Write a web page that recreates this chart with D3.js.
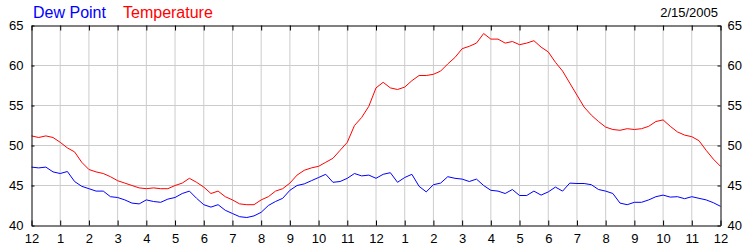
<!DOCTYPE html>
<html>
<head>
<meta charset="utf-8">
<script src="https://cdn.jsdelivr.net/npm/d3@7"></script>
<style>
  body { margin: 0; background: #fff; }
  svg text { font-family: Arial, "Liberation Sans", sans-serif; }
</style>
</head>
<body>
<svg id="chart" width="750" height="250"></svg>
<script>
// readings every 15 minutes, midnight to midnight, 2/15/2005
var dateLabel = "2/15/2005";
var hourLabels = ["12","1","2","3","4","5","6","7","8","9","10","11",
                  "12","1","2","3","4","5","6","7","8","9","10","11","12"];
var yTicks = [40, 45, 50, 55, 60, 65];

var temperature = [
  51.2, 51.0, 51.2, 51.0, 50.4, 49.7, 49.2, 47.9, 47.0, 46.7,
  46.5, 46.1, 45.6, 45.3, 45.0, 44.7, 44.6, 44.7, 44.6, 44.6,
  45.0, 45.3, 45.9, 45.4, 44.8, 44.0, 44.3, 43.6, 43.2, 42.7,
  42.6, 42.6, 43.2, 43.6, 44.3, 44.6, 45.3, 46.3, 46.9, 47.2,
  47.4, 47.9, 48.4, 49.4, 50.4, 52.5, 53.5, 54.9, 57.2, 57.9,
  57.2, 57.0, 57.3, 58.1, 58.75, 58.75, 58.9, 59.3, 60.2, 61.0,
  62.1, 62.4, 62.8, 64.0, 63.3, 63.3, 62.8, 63.0, 62.6, 62.8,
  63.1, 62.3, 61.7, 60.4, 59.3, 57.8, 56.3, 54.8, 53.8, 53.0,
  52.3, 52.0, 51.9, 52.1, 52.0, 52.1, 52.4, 53.0, 53.2, 52.4,
  51.7, 51.3, 51.1, 50.6, 49.4, 48.3, 47.4
];

var dewPoint = [
  47.3, 47.2, 47.3, 46.7, 46.5, 46.75, 45.5, 44.9, 44.6, 44.3,
  44.3, 43.6, 43.5, 43.2, 42.8, 42.7, 43.2, 43.0, 42.9, 43.3,
  43.5, 44.0, 44.3, 43.4, 42.6, 42.3, 42.6, 41.9, 41.5, 41.1,
  41.0, 41.2, 41.65, 42.5, 43.0, 43.4, 44.4, 45.0, 45.2, 45.6,
  46.0, 46.4, 45.4, 45.5, 45.9, 46.5, 46.2, 46.3, 45.9, 46.4,
  46.6, 45.4, 46.0, 46.4, 44.9, 44.2, 45.1, 45.3, 46.1, 45.9,
  45.8, 45.5, 45.8, 45.0, 44.4, 44.3, 44.0, 44.5, 43.75, 43.75,
  44.3, 43.8, 44.2, 44.8, 44.3, 45.3, 45.25, 45.25, 45.1, 44.5,
  44.3, 44.0, 42.8, 42.6, 42.9, 42.9, 43.2, 43.6, 43.8, 43.55,
  43.6, 43.35, 43.6, 43.4, 43.2, 42.85, 42.4
];

var svg = d3.select("#chart");

var x = d3.scaleLinear().domain([0, 24]).range([31.5, 720.5]);
var y = d3.scaleLinear().domain([40, 65]).range([225.5, 25.5]);

var hours = d3.range(hourLabels.length);

// vertical and horizontal grid
svg.append("g")
  .selectAll("line.v")
  .data(hours.slice(1, -1))
  .join("line")
  .attr("x1", function (d) { return x(d); })
  .attr("x2", function (d) { return x(d); })
  .attr("y1", y(40))
  .attr("y2", y(65))
  .attr("stroke", "#cccccc");

svg.append("g")
  .selectAll("line.h")
  .data(yTicks.slice(1, -1))
  .join("line")
  .attr("x1", x(0))
  .attr("x2", x(24))
  .attr("y1", function (d) { return y(d); })
  .attr("y2", function (d) { return y(d); })
  .attr("stroke", "#cccccc");

// data lines
var line = function (values) {
  return d3.line()
    .x(function (d, i) { return x(i / 4); })
    .y(function (d) { return y(d); })(values);
};

svg.append("path")
  .attr("d", line(dewPoint))
  .attr("fill", "none")
  .attr("stroke", "#0000ff")
  .attr("stroke-width", 1);

svg.append("path")
  .attr("d", line(temperature))
  .attr("fill", "none")
  .attr("stroke", "#ff0000")
  .attr("stroke-width", 1);

// axes (frame + ticks)
function styleAxis(g) {
  g.selectAll("path, line").attr("stroke", "#000");
  g.selectAll("text")
    .attr("fill", "#000")
    .style("font-size", "13px")
    .style("font-family", "Arial, 'Liberation Sans', sans-serif");
}

svg.append("g")
  .attr("transform", "translate(0," + y(40) + ")")
  .call(d3.axisBottom(x).tickValues(hours)
    .tickFormat(function (d) { return hourLabels[d]; })
    .tickSizeInner(-5).tickSizeOuter(0).tickPadding(8))
  .call(styleAxis);

svg.append("g")
  .attr("transform", "translate(0," + y(65) + ")")
  .call(d3.axisTop(x).tickValues(hours).tickFormat("")
    .tickSizeInner(-5).tickSizeOuter(0))
  .call(styleAxis);

svg.append("g")
  .attr("transform", "translate(" + x(0) + ",0)")
  .call(d3.axisLeft(y).tickValues(yTicks)
    .tickSizeInner(-3).tickSizeOuter(0).tickPadding(8))
  .call(styleAxis);

svg.append("g")
  .attr("transform", "translate(" + x(24) + ",0)")
  .call(d3.axisRight(y).tickValues(yTicks)
    .tickSizeInner(-3).tickSizeOuter(0).tickPadding(7))
  .call(styleAxis);

// header
svg.append("text")
  .attr("x", 33).attr("y", 18)
  .attr("fill", "#0000ff")
  .style("font-size", "16px")
  .text("Dew Point");

svg.append("text")
  .attr("x", 123).attr("y", 18)
  .attr("fill", "#ff0000")
  .style("font-size", "16px")
  .text("Temperature");

svg.append("text")
  .attr("x", 718).attr("y", 17)
  .attr("text-anchor", "end")
  .attr("fill", "#000")
  .style("font-size", "13px")
  .text(dateLabel);
</script>
</body>
</html>
